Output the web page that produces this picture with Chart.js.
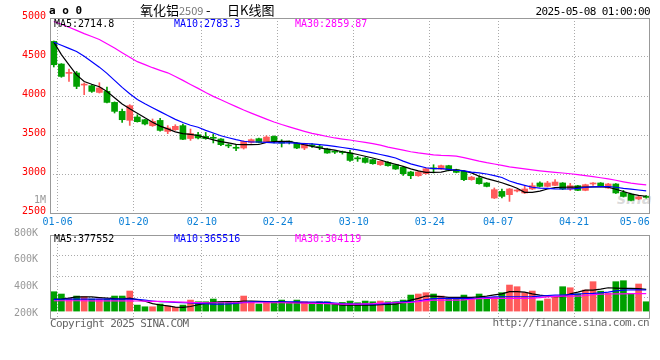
<!DOCTYPE html>
<html>
<head>
<meta charset="utf-8">
<script src="https://cdn.jsdelivr.net/npm/chart.js@4.4.1/dist/chart.umd.min.js"></script>
<style>
  html, body { margin: 0; padding: 0; background: #fff; }
  #wrap { position: relative; width: 660px; height: 360px; overflow: hidden; font-family: "DejaVu Sans Mono", monospace; }
  canvas { position: absolute; left: 0; z-index: 1; }
  .t { position: absolute; white-space: nowrap; font-size: 10px; line-height: 12px; z-index: 2; }
  .w11 { font-size: 11px; letter-spacing: -0.6px; }
  .cjk { font-family: "Noto Sans CJK SC", sans-serif; font-size: 13px; line-height: 16px; }
  .mark { position: absolute; z-index: 0; left: 617px; top: 190px; font: italic bold 15px "DejaVu Sans", sans-serif; color: rgba(150,150,150,.35); }
</style>
</head>
<body>
<div id="wrap">
  <div class="mark">sina</div>
  <canvas id="kline" width="660" height="230" style="top:0"></canvas>
  <canvas id="vol" width="660" height="95" style="top:225px"></canvas>

  <div class="t" style="left:49px;top:5px;font-size:11px;font-weight:bold">a o 0</div>
  <div class="t cjk" style="left:140px;top:2px">氧化铝<span style="font-size:11px;color:#777">2509</span></div>
  <div class="t cjk" style="left:206px;top:2px">-</div>
  <div class="t cjk" style="left:227px;top:2px">日K线图</div>
  <div class="t w11" style="right:10px;top:6px">2025-05-08 01:00:00</div>

  <div class="t" id="ma5" style="left:54px;top:18px;color:#000"></div>
  <div class="t" id="ma10" style="left:174px;top:18px;color:#0000ff"></div>
  <div class="t" id="ma30" style="left:295px;top:18px;color:#ff00ff"></div>
  <div class="t" style="right:614px;top:194px;color:#999">1M</div>

  <div class="t" id="vma5" style="left:54px;top:233px;color:#000"></div>
  <div class="t" id="vma10" style="left:174px;top:233px;color:#0000ff"></div>
  <div class="t" id="vma30" style="left:295px;top:233px;color:#ff00ff"></div>

  <div class="t w11" style="left:50px;top:318px;color:#666">Copyright 2025 SINA.COM</div>
  <div class="t w11" style="right:11px;top:317px;color:#666">http://finance.sina.com.cn</div>
</div>

<script>
// --- 交易日 ---
const DAYS = [
  '01-06','01-07','01-08','01-09','01-10','01-13','01-14','01-15','01-16','01-17',
  '01-20','01-21','01-22','01-23','01-24','01-27','02-05','02-06','02-07','02-10',
  '02-11','02-12','02-13','02-14','02-17','02-18','02-19','02-20','02-21','02-24',
  '02-25','02-26','02-27','02-28','03-03','03-04','03-05','03-06','03-07','03-10',
  '03-11','03-12','03-13','03-14','03-17','03-18','03-19','03-20','03-21','03-24',
  '03-25','03-26','03-27','03-28','03-31','04-01','04-02','04-03','04-07','04-08',
  '04-09','04-10','04-11','04-14','04-15','04-16','04-17','04-18','04-21','04-22',
  '04-23','04-24','04-25','04-28','04-29','04-30','05-06','05-07','05-08'
];

// --- 日K ---
const OPEN = [
  4700,4410,4290,4295,4140,4132,4046,4059,3918,3803,
  3688,3731,3696,3619,3687,3546,3568,3620,3455,3504,
  3482,3462,3449,3366,3336,3333,3405,3453,3414,3482,
  3400,3412,3398,3333,3365,3343,3320,3284,3278,3269,
  3198,3205,3184,3119,3149,3119,3085,3026,2978,3004,
  3070,3064,3107,3055,3034,2927,2949,2885,2692,2777,
  2735,2782,2757,2808,2885,2841,2854,2885,2808,2850,
  2790,2872,2885,2821,2872,2764,2740,2680,2710
];
const HIGH = [
  4705,4415,4346,4315,4167,4145,4170,4115,3925,3833,
  3889,3760,3700,3705,3713,3620,3632,3640,3577,3533,
  3533,3513,3455,3388,3376,3425,3450,3460,3491,3488,
  3440,3423,3405,3395,3390,3376,3330,3300,3295,3303,
  3226,3215,3190,3170,3160,3125,3090,3035,3035,3075,
  3119,3115,3112,3062,3040,2970,2978,2890,2821,2808,
  2815,2800,2842,2885,2900,2906,2927,2890,2880,2855,
  2870,2890,2890,2880,2878,2790,2750,2720,2725
];
const LOW = [
  4372,4240,4187,4094,4017,4046,4038,3910,3782,3662,
  3623,3665,3630,3610,3550,3517,3559,3440,3431,3449,
  3445,3398,3363,3337,3299,3320,3395,3400,3410,3398,
  3346,3385,3325,3312,3340,3312,3265,3262,3255,3162,
  3162,3140,3125,3110,3100,3058,2982,2940,2970,2998,
  3013,3058,3040,3015,2914,2920,2870,2835,2685,2692,
  2649,2770,2750,2800,2835,2835,2850,2800,2790,2785,
  2785,2855,2835,2815,2750,2705,2655,2672,2690
];
const CLOSE = [
  4401,4251,4300,4123,4150,4059,4103,3918,3803,3696,
  3876,3671,3641,3674,3559,3590,3611,3445,3519,3462,
  3453,3458,3376,3360,3330,3418,3440,3405,3474,3418,
  3396,3408,3333,3389,3361,3339,3269,3280,3274,3174,
  3194,3149,3132,3162,3106,3064,3004,2978,3026,3068,
  3066,3107,3047,3021,2927,2960,2876,2841,2799,2713,
  2808,2790,2808,2850,2841,2885,2897,2808,2850,2790,
  2863,2878,2841,2872,2757,2713,2662,2705,2700
];

// --- 均线（价格）---
const MA5 = [
  4690,4530,4400,4270,4185,4150,4118,4057,3978,3898,
  3836,3780,3720,3664,3614,3578,3540,3518,3507,3494,
  3465,3438,3415,3400,3380,3376,3376,3378,3405,3415,
  3418,3418,3395,3375,3355,3336,3320,3305,3285,3270,
  3250,3228,3205,3180,3150,3125,3098,3065,3040,3022,
  3021,3025,3045,3052,3040,3015,2972,2940,2915,2888,
  2855,2818,2765,2764,2780,2808,2825,2830,2833,2833,
  2833,2835,2835,2830,2805,2775,2745,2725,2715
];
const MA10 = [
  4690,4650,4610,4570,4510,4440,4370,4290,4200,4110,
  4030,3955,3900,3850,3800,3750,3700,3660,3625,3600,
  3560,3525,3490,3465,3440,3420,3410,3410,3405,3400,
  3398,3398,3395,3390,3385,3376,3366,3355,3340,3325,
  3310,3290,3270,3250,3230,3205,3165,3130,3105,3080,
  3068,3068,3060,3048,3040,3025,3015,3000,2980,2955,
  2910,2880,2855,2830,2820,2815,2810,2808,2808,2815,
  2830,2835,2838,2840,2830,2815,2805,2795,2783
];
const MA30 = [
  4955,4920,4882,4842,4800,4762,4725,4670,4615,4555,
  4497,4440,4402,4363,4329,4297,4250,4200,4148,4098,
  4044,3995,3951,3907,3864,3820,3780,3742,3704,3666,
  3634,3605,3576,3547,3520,3501,3481,3462,3448,3436,
  3420,3405,3390,3370,3345,3325,3305,3285,3270,3258,
  3245,3238,3236,3230,3210,3188,3165,3145,3128,3110,
  3092,3078,3065,3052,3040,3030,3022,3013,3003,2992,
  2980,2967,2952,2938,2920,2900,2882,2870,2860
];

// --- 成交量与均量 ---
const VOLUME = [
  336000,296000,220000,261000,249000,209000,209000,209000,261000,261000,
  348000,104000,75000,75000,122000,87000,64000,104000,191000,162000,
  162000,209000,162000,162000,162000,261000,162000,122000,162000,162000,
  191000,134000,191000,162000,134000,162000,162000,122000,150000,174000,
  145000,174000,162000,174000,162000,162000,191000,278000,296000,319000,
  296000,261000,220000,209000,278000,209000,296000,238000,238000,319000,
  452000,423000,319000,348000,176000,210000,238000,423000,405000,300000,
  365000,510000,345000,308000,510000,527000,308000,470000,162000
];
const VMA5 = [
  203000,210000,225000,245000,249000,245000,235000,225000,215000,210000,
  225000,200000,170000,130000,105000,90000,70000,64000,80000,110000,
  135000,150000,162000,165000,162000,175000,175000,170000,165000,160000,
  165000,150000,150000,145000,145000,140000,140000,120000,104000,104000,
  104000,104000,104000,110000,115000,122000,150000,191000,220000,261000,
  261000,250000,238000,238000,238000,238000,245000,261000,280000,300000,
  336000,336000,330000,300000,278000,260000,249000,249000,300000,330000,
  365000,365000,380000,405000,400000,395000,394000,390000,378000
];
const VMA10 = [
  203000,205000,207000,209000,209000,209000,209000,209000,209000,209000,
  209000,205000,190000,175000,162000,160000,150000,145000,140000,135000,
  128000,122000,122000,125000,135000,150000,160000,162000,162000,162000,
  162000,162000,160000,158000,158000,155000,150000,140000,130000,125000,
  122000,122000,122000,125000,135000,150000,160000,162000,175000,200000,
  215000,220000,220000,220000,220000,220000,225000,235000,245000,249000,
  249000,249000,249000,252000,260000,270000,278000,278000,285000,295000,
  305000,308000,315000,330000,350000,365000,370000,368000,366000
];
const VMA30 = [
  179000,179000,179000,179000,179000,178000,178000,177000,177000,176000,
  176000,175000,173000,170000,168000,165000,160000,155000,150000,148000,
  145000,145000,145000,145000,145000,145000,145000,145000,145000,145000,
  145000,143000,140000,138000,135000,132000,128000,125000,122000,122000,
  122000,125000,130000,138000,145000,145000,145000,150000,165000,180000,
  191000,191000,191000,191000,195000,205000,215000,220000,220000,220000,
  220000,220000,222000,225000,235000,245000,255000,261000,261000,261000,
  270000,285000,292000,296000,298000,300000,302000,303000,304000
];

// --- 刻度与图例 ---
const DATE_TICKS = ['01-06','01-20','02-10','02-24','03-10','03-24','04-07','04-21','05-06'];
const PRICE_TICKS = [2500, 3000, 3500, 4000, 4500, 5000];
const VOL_TICKS = [200000, 400000, 600000, 800000];
const LEGEND_PRICE = ['MA5:2714.8', 'MA10:2783.3', 'MA30:2859.87'];
const LEGEND_VOL = ['MA5:377552', 'MA10:365516', 'MA30:304119'];

const MONO = '"DejaVu Sans Mono", monospace';
const UP = '#ff5a5a';
const DOWN = '#00a000';
const GRID = '#aaa';
const CLEAR = 'rgba(0,0,0,0)';

['ma5', 'ma10', 'ma30'].forEach((id, k) => { document.getElementById(id).textContent = LEGEND_PRICE[k]; });
['vma5', 'vma10', 'vma30'].forEach((id, k) => { document.getElementById(id).textContent = LEGEND_VOL[k]; });

const candleColor = DAYS.map((_, i) => (CLOSE[i] >= OPEN[i] ? UP : DOWN));
const tickPos = DATE_TICKS.map((d) => DAYS.indexOf(d) + 0.5);
const pts = (arr) => arr.map((v, i) => ({ x: i, y: v }));

// 外框
const frame = {
  id: 'frame',
  afterDraw(chart) {
    const { ctx, chartArea: a } = chart;
    ctx.save();
    ctx.strokeStyle = '#999';
    ctx.lineWidth = 1;
    ctx.strokeRect(Math.round(a.left) + 0.5, Math.round(a.top) + 0.5,
      Math.round(a.right - a.left) - 1, Math.round(a.bottom - a.top));
    ctx.restore();
  },
};

// 共用横轴：日期网格（最后一个标签不画网格线）
function dateAxis(showLabels) {
  return {
    type: 'linear',
    min: -0.5,
    max: DAYS.length - 0.5,
    offset: false,
    afterBuildTicks: (s) => { s.ticks = tickPos.map((v) => ({ value: v })); },
    afterFit: (s) => { s.height = showLabels ? 17 : 0; s.paddingLeft = 0; s.paddingRight = 0; },
    ticks: {
      display: showLabels,
      autoSkip: false,
      maxRotation: 0,
      padding: 3,
      color: '#0a7fd6',
      font: { family: MONO, size: 10 },
      callback: (v, i) => DATE_TICKS[i],
    },
    grid: {
      offset: false,
      drawTicks: false,
      color: (c) => (c.index === DATE_TICKS.length - 1 ? CLEAR : GRID),
    },
    border: { display: false, dash: [1, 2] },
  };
}

function maLine(arr, color) {
  return {
    type: 'line',
    data: pts(arr),
    borderColor: color,
    borderWidth: 1.2,
    pointRadius: 0,
    fill: false,
    tension: 0,
    order: 0,
  };
}

const common = {
  responsive: false,
  animation: false,
  events: [],
  plugins: { legend: { display: false }, tooltip: { enabled: false } },
};

// --- 日K主图 ---
new Chart(document.getElementById('kline'), {
  type: 'bar',
  data: {
    datasets: [
      {
        label: '影线',
        data: DAYS.map((_, i) => ({ x: i, y: [LOW[i], HIGH[i]] })),
        backgroundColor: candleColor,
        barThickness: 1,
        grouped: false,
        order: 3,
      },
      {
        label: '实体',
        data: DAYS.map((_, i) => ({ x: i, y: [OPEN[i], CLOSE[i]] })),
        backgroundColor: candleColor,
        barThickness: 6,
        minBarLength: 1,
        grouped: false,
        order: 2,
      },
      maLine(MA30, '#ff00ff'),
      maLine(MA10, '#0000ff'),
      maLine(MA5, '#000000'),
    ],
  },
  options: {
    ...common,
    layout: { padding: { top: 18, right: 10, left: 0, bottom: 0 } },
    scales: {
      x: dateAxis(true),
      y: {
        type: 'linear',
        min: PRICE_TICKS[0],
        max: PRICE_TICKS[PRICE_TICKS.length - 1],
        beginAtZero: false,
        afterBuildTicks: (s) => { s.ticks = PRICE_TICKS.map((v) => ({ value: v })); },
        afterFit: (s) => { s.width = 50; s.paddingTop = 0; s.paddingBottom = 0; },
        ticks: {
          color: '#f00',
          padding: 4,
          labelOffset: -2,
          font: { family: MONO, size: 10 },
          callback: (v) => String(v),
        },
        grid: {
          drawTicks: false,
          color: (c) => (c.tick && (c.tick.value === PRICE_TICKS[0] || c.tick.value === PRICE_TICKS[PRICE_TICKS.length - 1]) ? CLEAR : GRID),
        },
        border: { display: false, dash: [1, 2] },
      },
    },
  },
  plugins: [frame],
});

// --- 成交量副图 ---
const VOL_MIN = -120000;
const VOL_MAX = 1320000;

new Chart(document.getElementById('vol'), {
  type: 'bar',
  data: {
    datasets: [
      {
        label: '成交量',
        data: pts(VOLUME),
        backgroundColor: candleColor,
        barThickness: 6,
        grouped: false,
        yAxisID: 'y',
        order: 2,
      },
      { ...maLine(VMA30, '#ff00ff'), yAxisID: 'y' },
      { ...maLine(VMA10, '#0000ff'), yAxisID: 'y' },
      { ...maLine(VMA5, '#000000'), yAxisID: 'y' },
    ],
  },
  options: {
    ...common,
    layout: { padding: { top: 10, right: 10, left: 0, bottom: 2 } },
    scales: {
      x: dateAxis(false),
      y: {
        type: 'linear',
        position: 'left',
        min: VOL_MIN,
        max: VOL_MAX,
        beginAtZero: false,
        afterBuildTicks: (s) => {
          s.ticks = [0, 1, 2, 3, 4].map((k) => ({ value: VOL_MIN + (k * (VOL_MAX - VOL_MIN)) / 4 }));
        },
        afterFit: (s) => { s.width = 0; s.paddingTop = 0; s.paddingBottom = 0; },
        ticks: { display: false },
        grid: {
          drawTicks: false,
          color: (c) => (c.index === 0 || c.index === 4 ? CLEAR : GRID),
        },
        border: { display: false, dash: [1, 2] },
      },
      yl: {
        type: 'linear',
        position: 'left',
        min: 192500,
        max: 815000,
        afterBuildTicks: (s) => { s.ticks = VOL_TICKS.map((v) => ({ value: v })); },
        afterFit: (s) => { s.width = 50; s.paddingTop = 0; s.paddingBottom = 0; },
        ticks: {
          color: '#999',
          padding: 4,
          labelOffset: -4,
          autoSkip: false,
          font: { family: MONO, size: 10 },
          callback: (v) => v / 1000 + 'K',
        },
        grid: { display: false },
        border: { display: false },
      },
    },
  },
  plugins: [frame],
});
</script>
</body>
</html>
